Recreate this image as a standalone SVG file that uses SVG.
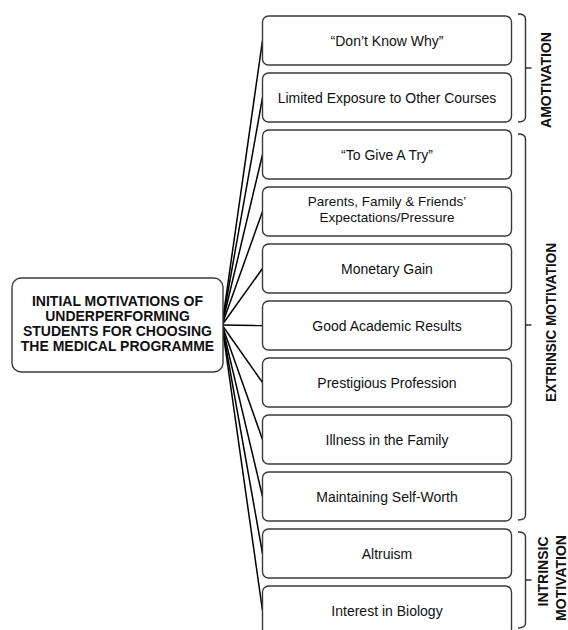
<svg xmlns="http://www.w3.org/2000/svg" width="568" height="630" viewBox="0 0 568 630">
<style>
.box{fill:#fff;stroke:#3a3a3a;stroke-width:1.4}
.t{font-family:"Liberation Sans",Arial,sans-serif;font-size:14px;fill:#111;text-anchor:middle}
.t2{font-family:"Liberation Sans",Arial,sans-serif;font-size:13.5px;fill:#111;text-anchor:middle}
.tb{font-family:"Liberation Sans",Arial,sans-serif;font-size:14px;font-weight:bold;fill:#111;text-anchor:middle}
.c{fill:none;stroke:#000;stroke-width:1.5}
.br{fill:none;stroke:#333;stroke-width:1.4}
</style>
<rect width="568" height="630" fill="#fff"/>
<g id="connectors">
<line class="c" x1="222" y1="325" x2="262.5" y2="40.5"/>
<line class="c" x1="222" y1="325" x2="262.5" y2="97.5"/>
<line class="c" x1="222" y1="325" x2="262.5" y2="154.5"/>
<line class="c" x1="222" y1="325" x2="262.5" y2="211.5"/>
<line class="c" x1="222" y1="325" x2="262.5" y2="268.5"/>
<line class="c" x1="222" y1="325" x2="262.5" y2="325.5"/>
<line class="c" x1="222" y1="325" x2="262.5" y2="382.5"/>
<line class="c" x1="222" y1="325" x2="262.5" y2="439.5"/>
<line class="c" x1="222" y1="325" x2="262.5" y2="496.5"/>
<line class="c" x1="222" y1="325" x2="262.5" y2="553.5"/>
<line class="c" x1="222" y1="325" x2="262.5" y2="610.5"/>
</g>
<g id="root">
<rect class="box" x="12" y="278" width="211" height="94" rx="9"/>
<text class="tb" x="117.5" y="306">INITIAL MOTIVATIONS OF</text>
<text class="tb" x="117.5" y="321">UNDERPERFORMING</text>
<text class="tb" x="117.5" y="336">STUDENTS FOR CHOOSING</text>
<text class="tb" x="117.5" y="351">THE MEDICAL PROGRAMME</text>
</g>
<g id="n1"><rect class="box" x="262.5" y="16" width="249" height="49" rx="6"/><text class="t" x="387" y="45.5">“Don’t Know Why”</text></g>
<g id="n2"><rect class="box" x="262.5" y="73" width="249" height="49" rx="6"/><text class="t" x="387" y="102.5">Limited Exposure to Other Courses</text></g>
<g id="n3"><rect class="box" x="262.5" y="130" width="249" height="49" rx="6"/><text class="t" x="387" y="159.5">“To Give A Try”</text></g>
<g id="n4"><rect class="box" x="262.5" y="187" width="249" height="49" rx="6"/><text class="t2" x="387" y="206">Parents, Family &amp; Friends’</text><text class="t2" x="387" y="221.5">Expectations/Pressure</text></g>
<g id="n5"><rect class="box" x="262.5" y="244" width="249" height="49" rx="6"/><text class="t" x="387" y="273.5">Monetary Gain</text></g>
<g id="n6"><rect class="box" x="262.5" y="301" width="249" height="49" rx="6"/><text class="t" x="387" y="330.5">Good Academic Results</text></g>
<g id="n7"><rect class="box" x="262.5" y="358" width="249" height="49" rx="6"/><text class="t" x="387" y="387.5">Prestigious Profession</text></g>
<g id="n8"><rect class="box" x="262.5" y="415" width="249" height="49" rx="6"/><text class="t" x="387" y="444.5">Illness in the Family</text></g>
<g id="n9"><rect class="box" x="262.5" y="472" width="249" height="49" rx="6"/><text class="t" x="387" y="501.5">Maintaining  Self-Worth</text></g>
<g id="n10"><rect class="box" x="262.5" y="529" width="249" height="49" rx="6"/><text class="t" x="387" y="558.5">Altruism</text></g>
<g id="n11"><rect class="box" x="262.5" y="586" width="249" height="49" rx="6"/><text class="t" x="387" y="615.5">Interest in Biology</text></g>
<g id="amotivation">
<path class="br" d="M518,14 Q525.5,14 525.5,19 V68 H531.5 M525.5,68 V117 Q525.5,122 518,122"/>
<text class="tb" transform="translate(550.5,80) rotate(-90)">AMOTIVATION</text>
</g>
<g id="extrinsic">
<path class="br" d="M518,134 Q525.5,134 525.5,139 V325 H531.5 M525.5,325 V515 Q525.5,520 518,520"/>
<text class="tb" transform="translate(555.5,322.5) rotate(-90)" textLength="159" lengthAdjust="spacingAndGlyphs">EXTRINSIC MOTIVATION</text>
</g>
<g id="intrinsic">
<path class="br" d="M518,532 Q525.5,532 525.5,537 V580 H531.5 M525.5,580 V623 Q525.5,628 518,628"/>
<text class="tb" transform="translate(548,571.5) rotate(-90)">INTRINSIC</text>
<text class="tb" transform="translate(566,578) rotate(-90)">MOTIVATION</text>
</g>
</svg>
